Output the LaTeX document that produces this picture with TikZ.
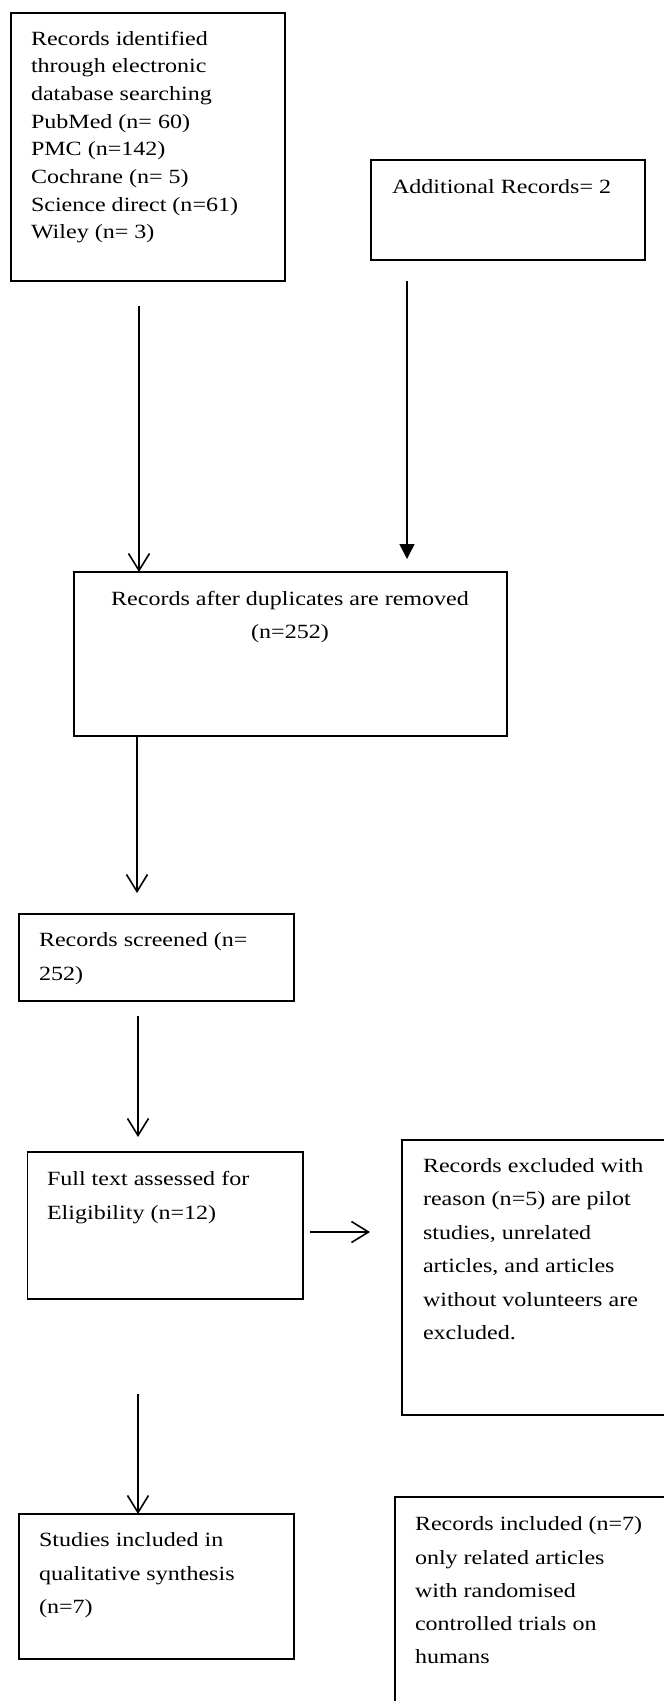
\documentclass[tikz,border=0pt]{standalone}
\usepackage{fontspec}
\setmainfont{Liberation Serif}[FakeStretch=1.19]
\usetikzlibrary{arrows.meta}
\begin{document}
\begin{tikzpicture}[x=1pt,y=-1pt,
  box/.style={draw, line width=1.7pt, rectangle, inner sep=0pt, outer sep=0pt, anchor=north west},
  txt/.style={anchor=north west, inner sep=0pt, outer sep=0pt, align=left, font=\fontsize{20.2}{33.3}\selectfont},
  vee/.style={-{Straight Barb[length=17pt,width=21pt]}, line width=1.6pt},
  tri/.style={-{Triangle[length=15pt,width=15pt]}, line width=1.6pt}]
\useasboundingbox (0,0) rectangle (664,1701);
\clip (0,0) rectangle (664,1701);
% boxes
\node[box, minimum width=274pt, minimum height=268pt] (b1) at (11,13) {};
\node[box, minimum width=274pt, minimum height=100pt] (b2) at (371,160) {};
\node[box, minimum width=433pt, minimum height=164pt] (b3) at (74,572) {};
\node[box, minimum width=275pt, minimum height=87pt] (b4) at (19,914) {};
\node[box, minimum width=275.5pt, minimum height=147pt] (b5) at (27.5,1152) {};
\node[box, minimum width=278pt, minimum height=275pt] (b6) at (402,1140) {};
\node[box, minimum width=275pt, minimum height=145pt] (b7) at (19,1514) {};
\node[box, minimum width=285pt, minimum height=223pt] (b8) at (395,1497) {};
% texts
\node[txt, font=\fontsize{20.2}{27.7}\selectfont] (t1) at (31,28) {\rule{0pt}{17pt}Records identified\\through electronic\\database searching\\PubMed (n= 60)\\PMC (n=142)\\Cochrane (n= 5)\\Science direct (n=61)\\Wiley (n= 3)};
\node[txt] (t2) at (392,176.3) {\rule{0pt}{17pt}Additional Records= 2};
\node[txt, anchor=north, align=center, font=\fontsize{20.2}{32.3}\selectfont] (t3) at (290,588.7) {\rule{0pt}{17pt}Records after duplicates are removed\\(n=252)};
\node[txt] (t4) at (39,929.7) {\rule{0pt}{17pt}Records screened (n=\\252)};
\node[txt] (t5) at (47,1168.7) {\rule{0pt}{17pt}Full text assessed for\\Eligibility (n=12)};
\node[txt, font=\fontsize{20.2}{33.5}\selectfont] (t6) at (423,1155.3) {\rule{0pt}{17pt}Records excluded with\\reason (n=5) are pilot\\studies, unrelated\\articles, and articles\\without volunteers are\\excluded.};
\node[txt] (t7) at (39,1529.7) {\rule{0pt}{17pt}Studies included in\\qualitative synthesis\\(n=7)};
\node[txt] (t8) at (415,1513.7) {\rule{0pt}{17pt}Records included (n=7)\\only related articles\\with randomised\\controlled trials on\\humans};
% connectors
\coordinate (a1s) at (139,306);
\draw[vee] (a1s) -- (a1s |- b3.north);
\coordinate (a2s) at (407,281);
\coordinate (a2e) at (407,559);
\draw[tri] (a2s) -- (a2e);
\coordinate (a3e) at (137,893);
\draw[vee] (a3e |- b3.south) -- (a3e);
\coordinate (a4s) at (138,1016);
\coordinate (a4e) at (138,1137);
\draw[vee] (a4s) -- (a4e);
\coordinate (a5s) at (310,1232);
\coordinate (a5e) at (370,1232);
\draw[vee] (a5s) -- (a5e);
\coordinate (a6s) at (138,1394);
\draw[vee] (a6s) -- (a6s |- b7.north);
\end{tikzpicture}
\end{document}
